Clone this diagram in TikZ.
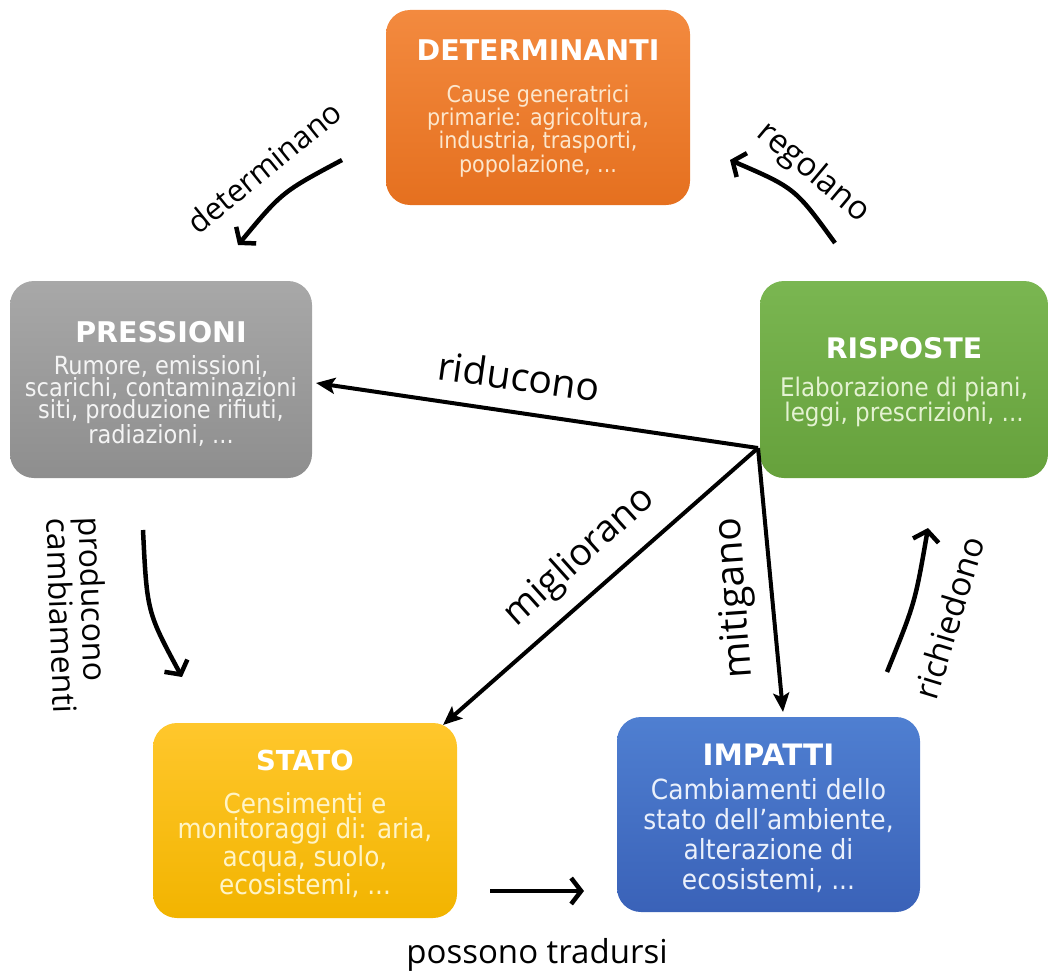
\documentclass[tikz,border=0pt]{standalone}
\usepackage{fontspec}
\setmainfont{DejaVu Sans}
\newfontfamily\hdrfont{DejaVu Sans}
\newfontfamily\bodyfont{DejaVu Sans Condensed}
\newfontfamily\lblfont{Open Sans}
\usetikzlibrary{arrows.meta}
\definecolor{orT}{HTML}{F38A3F}
\definecolor{orB}{HTML}{E5701F}
\definecolor{grT}{HTML}{A8A8A8}
\definecolor{grB}{HTML}{8E8E8E}
\definecolor{gnT}{HTML}{7AB651}
\definecolor{gnB}{HTML}{66A13C}
\definecolor{yeT}{HTML}{FFC72C}
\definecolor{yeB}{HTML}{F2B400}
\definecolor{blT}{HTML}{4F7FD1}
\definecolor{blB}{HTML}{3A62B8}
\definecolor{orTxt}{HTML}{FCE6CC}
\definecolor{grTxt}{HTML}{F4F4F4}
\definecolor{gnTxt}{HTML}{E4F2D2}
\definecolor{yeTxt}{HTML}{FFF4C6}
\definecolor{blTxt}{HTML}{EAF0FB}
\begin{document}
\begin{tikzpicture}[x=1pt,y=-1pt,
  box/.style={rounded corners=24pt, inner sep=0pt, draw=none},
  hdr/.style={text=white, inner sep=0pt, font=\hdrfont\bfseries\fontsize{#1}{#1}\selectfont},
  body/.style={inner sep=0pt, align=center},
  lbl/.style={inner sep=0pt, text=black, font=\lblfont\fontsize{#1}{#1}\selectfont},
  sarrow/.style={line width=4pt, -{Stealth[length=19pt,width=16pt,inset=4pt]}},
  carrow/.style={line width=4.5pt, -{Straight Barb[length=10pt,width=26pt]}}]
\useasboundingbox (0,0) rectangle (1049,974);

% boxes
\node[box, minimum width=304pt, minimum height=195pt, top color=orT, bottom color=orB] (det) at (538,107.5) {};
\node[box, minimum width=302pt, minimum height=197pt, top color=grT, bottom color=grB] (pre) at (161,379.5) {};
\node[box, minimum width=288pt, minimum height=197pt, top color=gnT, bottom color=gnB] (ris) at (904,379.5) {};
\node[box, minimum width=304pt, minimum height=195pt, top color=yeT, bottom color=yeB] (sta) at (305,820.5) {};
\node[box, minimum width=303pt, minimum height=195pt, top color=blT, bottom color=blB] (imp) at (768.5,814.5) {};

% texts
\node[hdr=28.5] (detH) at (538,50) {DETERMINANTI};
\node[body, text=orTxt, font=\bodyfont\fontsize{23}{23.3}\selectfont] (detB) at (538,131) {Cause generatrici\\primarie: agricoltura,\\industria, trasporti,\\popolazione, ...};
\node[hdr=28.5] (preH) at (161,332) {PRESSIONI};
\node[body, text=grTxt, font=\bodyfont\fontsize{25}{22}\selectfont] (preB) at (161,401) {Rumore, emissioni,\\scarichi, contaminazioni\\siti, produzione rifiuti,\\radiazioni, ...};
\node[hdr=28.3] (risH) at (904,348) {RISPOSTE};
\node[body, text=gnTxt, font=\bodyfont\fontsize{25.6}{25}\selectfont] (risB) at (904,402) {Elaborazione di piani,\\leggi, prescrizioni, ...};
\node[hdr=27.5] (staH) at (305,760) {STATO};
\node[body, text=yeTxt, font=\bodyfont\fontsize{27.5}{25.5}\selectfont] (staB) at (305,845) {Censimenti e\\monitoraggi di: aria,\\acqua, suolo,\\ecosistemi, ...};
\node[hdr=29.5] (impH) at (768.5,755) {IMPATTI};
\node[body, text=blTxt, font=\bodyfont\fontsize{27.7}{30}\selectfont] (impB) at (768.5,836) {Cambiamenti dello\\stato dell’ambiente,\\alterazione di\\ecosistemi, ...};

% connector end points
\coordinate (hub) at (758,448);
\coordinate (riE) at (316,383);
\coordinate (miE) at (443,725);
\coordinate (mtE) at (783,712);
\coordinate (deA) at (342,160);
\coordinate (deB) at (238,245);
\coordinate (reA) at (835,243);
\coordinate (reB) at (730,160);
\coordinate (prA) at (143,530);
\coordinate (prB) at (182,677);
\coordinate (rcA) at (887,672);
\coordinate (rcB) at (928,528);
\coordinate (poA) at (490,891);
\coordinate (poB) at (584,891);

% straight arrows
\draw[sarrow] (hub) -- (riE);
\draw[sarrow] (hub) -- (miE);
\draw[sarrow] (hub) -- (mtE);

% curved arrows
\draw[carrow] (deA) .. controls (282,192) .. (deB);
\draw[carrow] (reA) .. controls (795,188) .. (reB);
\draw[carrow] (prA) .. controls (147,612) .. (prB);
\draw[carrow] (rcA) .. controls (915,603) .. (rcB);
\draw[carrow] (poA) -- (poB);

% labels
\node[lbl=39, rotate=-8] (lRid) at (519,376) {riducono};
\node[lbl=37.5, rotate=42] (lMig) at (580,557) {migliorano};
\node[lbl=39, rotate=94] (lMit) at (736,598) {mitigano};
\node[lbl=31, rotate=39] (lDet) at (264,167) {determinano};
\node[lbl=33, rotate=-40] (lReg) at (813,173) {regolano};
\node[lbl=33.5, rotate=73] (lRic) at (949,618) {richiedono};
\node[lbl=32, rotate=-88, align=left] (lPro) at (78,615) {producono\\cambiamenti};
\node[lbl=33] (lPos) at (537,955) {possono tradursi};
\end{tikzpicture}
\end{document}
